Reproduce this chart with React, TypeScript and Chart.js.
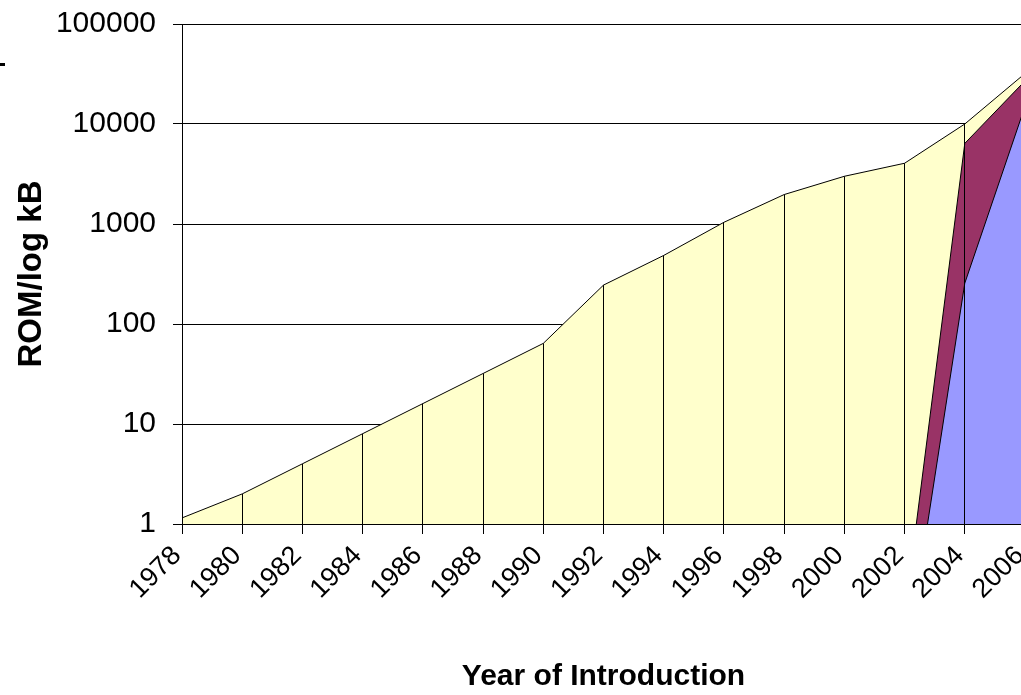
import React, { useEffect, useRef } from 'react';
import { Chart, registerables } from 'chart.js';

Chart.register(...registerables);

// Categories (years of introduction)
const years = ['1978', '1980', '1982', '1984', '1986', '1988', '1990', '1992', '1994', '1996', '1998', '2000', '2002', '2004', '2006'];

// Series values (ROM size, kB)
const seriesYellow = [1.15, 2, 4, 8, 16, 32, 64, 245, 485, 1040, 1970, 3000, 4050, 10000, 32000];
const seriesMaroon = [null, null, null, null, null, null, null, null, null, null, null, null, 0.12, 6400, 27000];
const seriesBlue = [null, null, null, null, null, null, null, null, null, null, null, null, 0.033, 256, 15000];

// Axis tick labels
const yTickValues = [1, 10, 100, 1000, 10000, 100000];
const yTitle = 'ROM/log kB';
const xTitle = 'Year of Introduction';

const FONT = '"Liberation Sans", Arial, sans-serif';

const dropLines = {
  id: 'dropLines',
  afterDatasetsDraw(chart: any) {
    const { ctx, chartArea, scales } = chart;
    const x = scales.x;
    const y = scales.y;
    const align = (p: number) => Math.round(p - 0.5) + 0.5;
    ctx.save();
    ctx.strokeStyle = '#000';
    ctx.lineWidth = 1;
    ctx.beginPath();
    years.forEach((_, i) => {
      const vals = [seriesYellow[i], seriesMaroon[i], seriesBlue[i]].filter((v) => v != null) as number[];
      if (!vals.length) return;
      const top = Math.max(chartArea.top, Math.min(...vals.map((v) => y.getPixelForValue(v))));
      const px = align(x.getPixelForValue(i));
      ctx.moveTo(px, top);
      ctx.lineTo(px, chartArea.bottom);
    });
    // axis lines on top of fills
    const lx = align(chartArea.left);
    const by = align(chartArea.bottom);
    ctx.moveTo(lx, chartArea.top);
    ctx.lineTo(lx, by);
    ctx.moveTo(chartArea.left, by);
    ctx.lineTo(chartArea.right, by);
    ctx.stroke();
    ctx.restore();
  },
};

export default function App() {
  const ref = useRef<HTMLCanvasElement>(null);

  useEffect(() => {
    if (!ref.current) return;
    const chart = new Chart(ref.current, {
      type: 'line',
      data: {
        labels: years,
        datasets: [
          {
            label: 'Series 1',
            data: seriesBlue,
            backgroundColor: '#9999FF',
            borderColor: '#000',
            borderWidth: 1,
            fill: 'start',
            pointRadius: 0,
            tension: 0,
          },
          {
            label: 'Series 2',
            data: seriesMaroon,
            backgroundColor: '#993366',
            borderColor: '#000',
            borderWidth: 1,
            fill: 'start',
            pointRadius: 0,
            tension: 0,
          },
          {
            label: 'Series 3',
            data: seriesYellow,
            backgroundColor: '#FFFFCC',
            borderColor: '#000',
            borderWidth: 1,
            fill: 'start',
            pointRadius: 0,
            tension: 0,
          },
        ],
      },
      options: {
        responsive: false,
        animation: false,
        layout: { padding: { left: 0, top: 24, right: 20, bottom: 0 } },
        plugins: {
          legend: { display: false },
          tooltip: { enabled: false },
        },
        scales: {
          x: {
            type: 'category',
            offset: false,
            afterFit: (s: any) => {
              s.height = 171;
              s.paddingLeft = 0;
              s.paddingRight = 0;
            },
            grid: {
              drawOnChartArea: false,
              drawTicks: true,
              tickLength: 10,
              color: '#000',
            },
            border: { display: true, color: '#000' },
            ticks: {
              autoSkip: false,
              minRotation: 45,
              maxRotation: 45,
              color: '#000',
              padding: 6,
              labelOffset: -5,
              font: { family: FONT, size: 27 },
            },
            title: {
              display: true,
              text: xTitle,
              color: '#000',
              padding: { top: 0, bottom: 0 },
              font: { family: FONT, size: 30, weight: 'bold' },
            },
          },
          y: {
            type: 'logarithmic',
            min: 1,
            max: 100000,
            afterFit: (s: any) => {
              s.width = 182;
              s.paddingTop = 0;
              s.paddingBottom = 0;
            },
            afterBuildTicks: (s: any) => {
              s.ticks = yTickValues.map((v) => ({ value: v }));
            },
            grid: {
              color: '#000',
              drawTicks: true,
              tickLength: 9,
            },
            border: { display: true, color: '#000' },
            ticks: {
              color: '#000',
              padding: 17,
              font: { family: FONT, size: 30 },
              callback: (v: any) => String(v),
            },
            title: {
              display: true,
              text: yTitle,
              color: '#000',
              padding: { top: 12, bottom: 0 },
              font: { family: FONT, size: 33, weight: 'bold' },
            },
          },
        },
      },
      plugins: [dropLines],
    } as any);
    return () => chart.destroy();
  }, []);

  return (
    <div
      style={{
        position: 'absolute',
        left: 0,
        top: 0,
        width: 1021,
        height: 695,
        overflow: 'hidden',
        background: '#fff',
      }}
    >
      <canvas ref={ref} width={1045} height={695} style={{ display: 'block' }} />
      <div style={{ position: 'absolute', left: 0, top: 63, width: 5, height: 3, background: '#000' }} />
    </div>
  );
}
